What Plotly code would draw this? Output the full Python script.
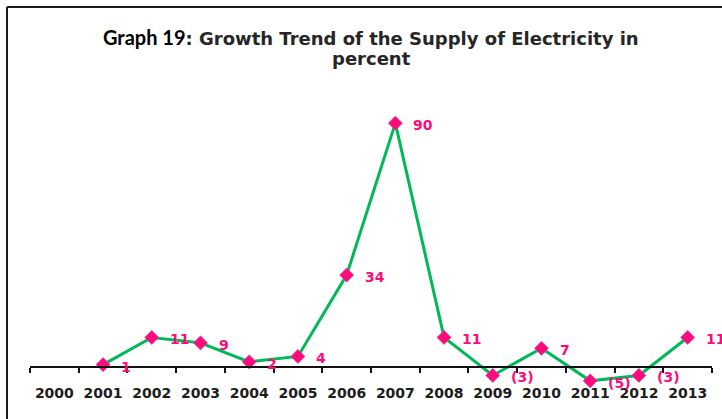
import plotly.graph_objects as go

# Annual growth of electricity supply (%); no figure for 2000
years = [str(y) for y in range(2000, 2014)]
growth = [None, 1, 11, 9, 2, 4, 34, 90, 11, -3, 7, -5, -3, 11]

W, H = 722, 419
ML, MR, MT, MB = 30, 10, 96, 30
Y_MIN, Y_MAX = -8, 100

LINE_GREEN = "#00B956"
PINK = "#FF0A78"


def px_to_paper(px, py):
    """Convert window pixels to paper coordinates of the plot area."""
    return (px - ML) / (W - ML - MR), (H - MB - py) / (H - MT - MB)


def fmt(v):
    return f"({abs(v)})" if v < 0 else str(v)


fig = go.Figure()
fig.add_trace(go.Scatter(
    x=years, y=growth,
    mode="lines+markers",
    line=dict(color=LINE_GREEN, width=3),
    marker=dict(symbol="diamond", size=11, color=PINK,
                line=dict(color="#9a6fd0", width=0.6)),
    connectgaps=False,
    hoverinfo="x+y",
))

annotations = []
# Value labels; category positions are given by index on the category axis
for i, v in enumerate(growth):
    if v is None:
        continue
    annotations.append(dict(
        x=i, y=v, xref="x", yref="y", text=fmt(v),
        showarrow=False, xanchor="left", yanchor="middle",
        xshift=16, yshift=-2,
        font=dict(family="DejaVu Sans", size=14, color=PINK, weight="bold"),
    ))

# Title: the label prefix in black, the description in dark grey
title_font = dict(family="DejaVu Sans", size=18, color="#262626", weight="bold")
annotations.append(dict(
    x=371, y=37, xref="paper", yref="paper",
    text="<span style='font-family:Lato;font-size:20px;color:#000000'>Graph 19</span>"
         ": Growth Trend of the Supply of Electricity in",
    showarrow=False, xanchor="center", yanchor="middle",
    font=title_font,
))
annotations.append(dict(
    x=371, y=59, xref="paper", yref="paper",
    text="percent",
    showarrow=False, xanchor="center", yanchor="middle",
    font=title_font,
))
for a in annotations[-2:]:
    a["x"], a["y"] = px_to_paper(a["x"], a["y"])

# Frame lines along the top and left edges
x0, y0 = px_to_paper(7, 7)
x1, _ = px_to_paper(W + 5, 7)
_, y1 = px_to_paper(7, H + 5)
shapes = [
    dict(type="line", xref="paper", yref="paper", x0=x0, y0=y0, x1=x1, y1=y0,
         line=dict(color="#1a1a1a", width=2)),
    dict(type="line", xref="paper", yref="paper", x0=x0, y0=y0, x1=x0, y1=y1,
         line=dict(color="#1a1a1a", width=2)),
]

fig.update_layout(
    width=W, height=H,
    margin=dict(l=ML, r=MR, t=MT, b=MB, pad=0, autoexpand=False),
    paper_bgcolor="white", plot_bgcolor="white",
    showlegend=False,
    annotations=annotations,
    shapes=shapes,
    xaxis=dict(
        type="category", categoryorder="array", categoryarray=years,
        range=[-0.5, len(years) - 0.5],
        anchor="free", position=(0 - Y_MIN) / (Y_MAX - Y_MIN),
        showline=True, linecolor="#111111", linewidth=2,
        ticks="outside", tickson="boundaries", ticklen=5, tickwidth=2,
        tickcolor="#111111",
        showgrid=False, zeroline=False,
        tickangle=0, automargin=False,
        ticklabelstandoff=13,
        tickfont=dict(family="DejaVu Sans", size=14, color="#1c1c1c", weight="bold"),
    ),
    yaxis=dict(
        range=[Y_MIN, Y_MAX], visible=False, showgrid=False, zeroline=False,
    ),
)

fig.write_html("out.html")
